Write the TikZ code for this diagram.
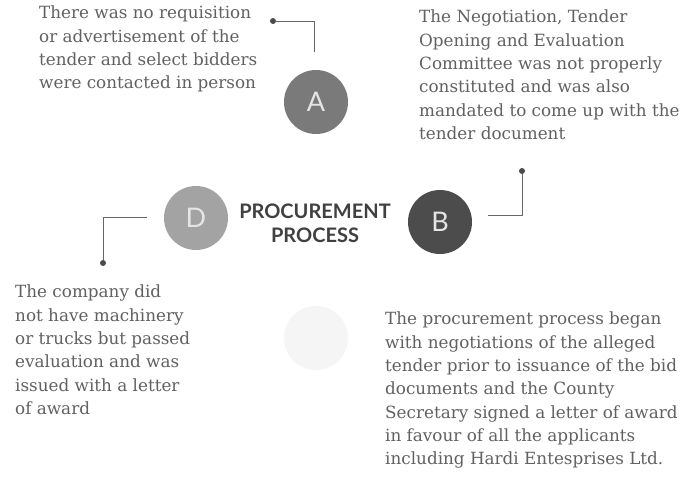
\documentclass[tikz,border=0pt]{standalone}
\usepackage{fontspec}
\setmainfont{DejaVu Serif}
\newfontfamily\headfont{Lato}
\begin{document}
\begin{tikzpicture}[x=1pt,y=-1pt,
  body/.style={anchor=north west,inner sep=0pt,align=left,text=black!62,
    font=\fontsize{16.8}{23.3}\selectfont},
  disc/.style={circle,minimum size=64pt,inner sep=0pt,text=white!90!black,
    font=\headfont\fontsize{27}{27}\selectfont},
  link/.style={draw=black!60,line width=0.8pt},
  dotn/.style={circle,fill=black!70,minimum size=6pt,inner sep=0pt}]
\useasboundingbox (0,0) rectangle (695,477);
\fill[white] (0,0) rectangle (695,477);
% circles
\node[disc,fill=black!52] (A) at (316,102) {A};
\node[disc,fill=black!70] (B) at (440,222) {B};
\node[disc,fill=black!36] (D) at (196,218) {D};
\node[disc,fill=black!4] (C) at (316,338) {};
% title
\node[align=center,inner sep=0pt,text=black!75,
  font=\headfont\bfseries\fontsize{20}{24}\selectfont] (T) at (315,223)
  {PROCUREMENT\\PROCESS};
% connectors
\node[dotn] (ad) at (273,21) {};
\coordinate (a1) at (314,21);
\coordinate (a2) at (314,52);
\draw[link] (ad) -- (a1) -- (a2);
\node[dotn] (bd) at (522,171) {};
\coordinate (b1) at (522,215);
\coordinate (b2) at (488,215);
\draw[link] (bd) -- (b1) -- (b2);
\node[dotn] (dd) at (103,263) {};
\coordinate (d1) at (103,217);
\coordinate (d2) at (147,217);
\draw[link] (d2) -- (d1) -- (dd);
% texts
\node[body] (tA) at (39,6) {There was no requisition\\or advertisement of the\\tender and select bidders\\were contacted in person};
\node[body] (tB) at (419,10) {The Negotiation, Tender\\Opening and Evaluation\\Committee was not properly\\constituted and was also\\mandated to come up with the\\tender document};
\node[body] (tD) at (15,285) {The company did\\not have machinery\\or trucks but passed\\evaluation and was\\issued with a letter\\of award};
\node[body] (tC) at (385,312) {The procurement process began\\with negotiations of the alleged\\tender prior to issuance of the bid\\documents and the County\\Secretary signed a letter of award\\in favour of all the applicants\\including Hardi Entesprises Ltd.};
\end{tikzpicture}
\end{document}
